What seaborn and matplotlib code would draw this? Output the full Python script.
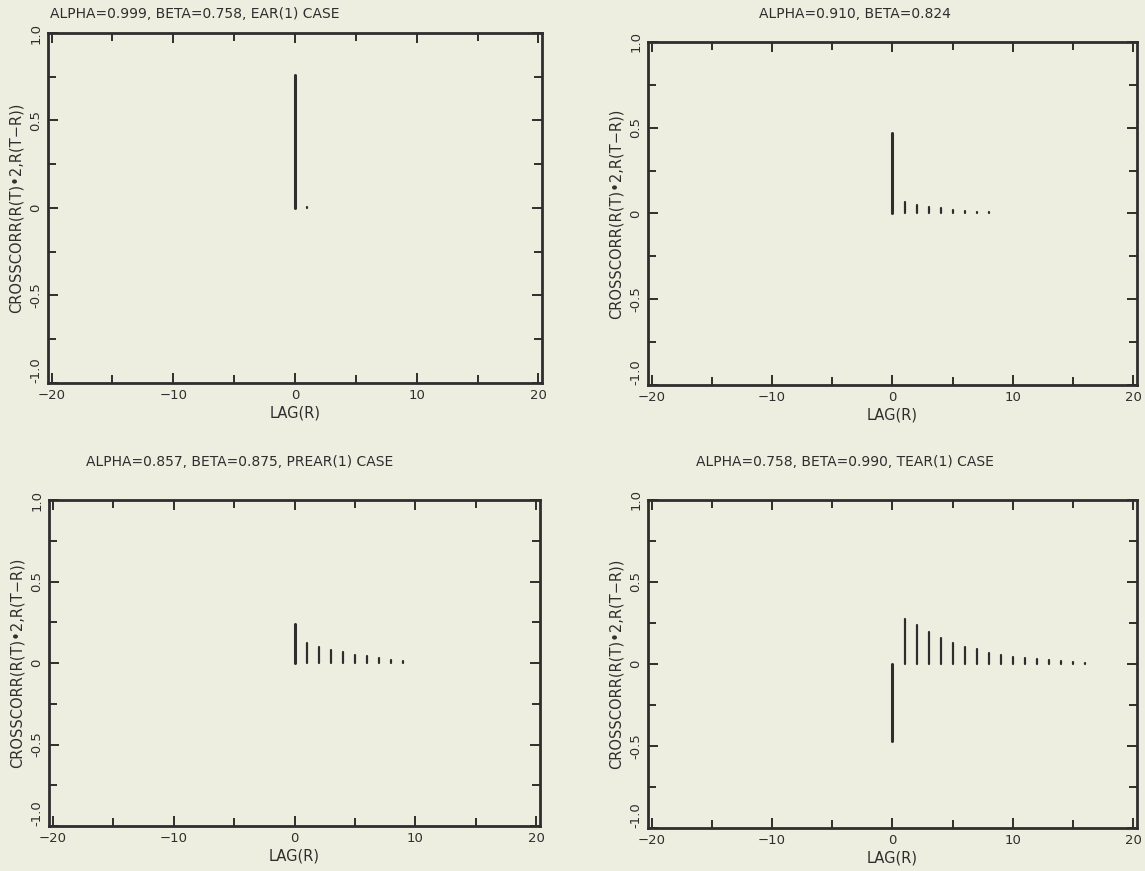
import matplotlib
matplotlib.use("Agg")
import matplotlib.pyplot as plt
from matplotlib.ticker import MultipleLocator, FixedLocator
import seaborn as sns
import pandas as pd

# == DATA ==
# cross-correlation values, one list per panel (lag 0, 1, 2, ...)
TITLES = [
    "ALPHA=0.999, BETA=0.758, EAR(1) CASE",
    "ALPHA=0.910, BETA=0.824",
    "ALPHA=0.857, BETA=0.875, PREAR(1) CASE",
    "ALPHA=0.758, BETA=0.990, TEAR(1) CASE",
]
ear_corr = [0.76, 0.006]
ab_corr = [0.47, 0.065, 0.05, 0.04, 0.03, 0.022, 0.015, 0.01, 0.007]
prear_corr = [0.24, 0.12, 0.10, 0.08, 0.065, 0.05, 0.04, 0.03, 0.02, 0.01]
tear_corr = [-0.47, 0.275, 0.235, 0.195, 0.16, 0.13, 0.105, 0.09, 0.07,
             0.055, 0.045, 0.035, 0.028, 0.022, 0.016, 0.012, 0.006]
PANELS = [ear_corr, ab_corr, prear_corr, tear_corr]

X_TICKS = [-20, -10, 0, 10, 20]
Y_TICKS = [-1.0, -0.5, 0, 0.5, 1.0]
Y_TICK_LABELS = ["-1.0", "-0.5", "0", "0.5", "1.0"]
XLABEL = "LAG(R)"
YLABEL = "CROSSCORR(R(T)\u20222,R(T\u2212R))"

# == STYLE ==
PAPER = "#eeeee0"
INK = "#2e2e2e"

sns.set_theme(style="ticks")
plt.rcParams.update({
    "font.family": ["DejaVu Sans"],
    "text.color": INK,
    "axes.labelcolor": INK,
    "xtick.color": INK,
    "ytick.color": INK,
    "axes.edgecolor": INK,
    "axes.facecolor": PAPER,
    "figure.facecolor": PAPER,
})

# axes rectangles in figure fractions (left, bottom, width, height)
RECTS = [
    (48 / 1145, 1 - 383 / 871, 494 / 1145, 350 / 871),
    (648 / 1145, 1 - 385 / 871, 489 / 1145, 343 / 871),
    (49 / 1145, 1 - 826 / 871, 491 / 1145, 326 / 871),
    (648 / 1145, 1 - 828 / 871, 489 / 1145, 328 / 871),
]
# title centres (x px, y px), the scan has them off-centre
TITLE_POS = [(195, 14), (855, 14), (240, 462), (845, 462)]

fig = plt.figure(figsize=(11.45, 8.71), dpi=100)

for rect, vals, title, tpos in zip(RECTS, PANELS, TITLES, TITLE_POS):
    ax = fig.add_axes(rect)

    # each stem is a two-point vertical line: (lag, 0) -> (lag, value)
    rows = []
    for lag, v in enumerate(vals):
        rows.append({"lag": lag, "corr": 0.0, "stem": lag})
        rows.append({"lag": lag, "corr": v, "stem": lag})
    df = pd.DataFrame(rows)

    sns.lineplot(data=df[df.stem == 0], x="lag", y="corr", units="stem",
                 estimator=None, color=INK, lw=2.2, ax=ax, sort=False)
    sns.lineplot(data=df[df.stem > 0], x="lag", y="corr", units="stem",
                 estimator=None, color=INK, lw=1.6, ax=ax, sort=False)

    ax.set_xlim(-20.3, 20.3)
    ax.set_ylim(-1.0, 1.0)
    ax.xaxis.set_major_locator(FixedLocator(X_TICKS))
    ax.xaxis.set_minor_locator(MultipleLocator(5))
    ax.yaxis.set_major_locator(FixedLocator(Y_TICKS))
    ax.yaxis.set_minor_locator(MultipleLocator(0.25))
    ax.set_xticklabels([str(t) if t >= 0 else "\u2212" + str(-t) for t in X_TICKS])
    ylabels = ax.set_yticklabels(Y_TICK_LABELS, rotation=90, va="center")
    # the bottom label sits above the corner, as in the scan
    ylabels[0].set_va("bottom")

    ax.tick_params(which="both", direction="in", top=True, right=True,
                   width=1.4, labelsize=9.5)
    ax.tick_params(which="major", length=7, pad=4)
    ax.tick_params(which="minor", length=6)
    for s in ax.spines.values():
        s.set_linewidth(2.0)

    ax.set_xlabel(XLABEL, fontsize=10.5, labelpad=3)
    ax.set_ylabel(YLABEL, fontsize=10.5, labelpad=4)

    fig.text(tpos[0] / 1145, 1 - tpos[1] / 871, title, ha="center",
             va="center", fontsize=10)

fig.savefig("out.png", dpi=100, facecolor=PAPER)
